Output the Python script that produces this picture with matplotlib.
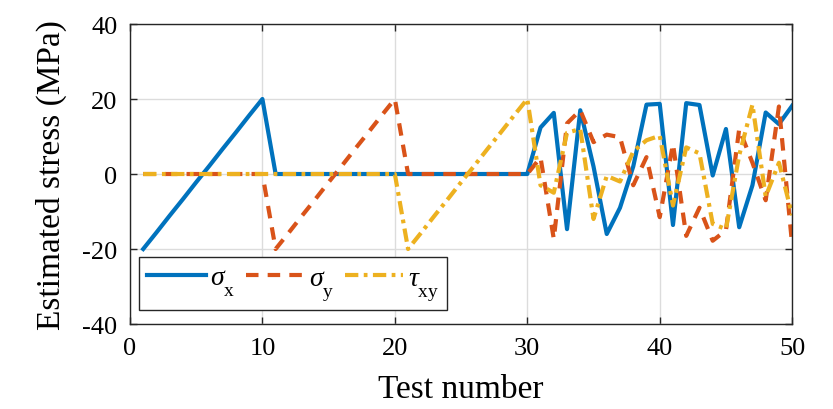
import matplotlib
matplotlib.use("Agg")
import matplotlib.pyplot as plt
import matplotlib._mathtext as mt

plt.rcParams['font.family'] = ['Liberation Serif', 'DejaVu Serif']
plt.rcParams['mathtext.fontset'] = 'custom'
plt.rcParams['mathtext.rm'] = 'Liberation Serif'
plt.rcParams['mathtext.it'] = 'Liberation Serif:italic'
# MATLAB-style tex puts subscripts lower than mathtext does
mt.FontConstantsBase.sub1 = 0.85
mt.FontConstantsBase.sub2 = 0.9

# test numbers 1..50
test = list(range(1, 51))

sigma_x = [-20, -15.6, -11.1, -6.7, -2.2, 2.2, 6.7, 11.1, 15.6, 20,
           0, 0, 0, 0, 0, 0, 0, 0, 0, 0,
           0, 0, 0, 0, 0, 0, 0, 0, 0, 0,
           12.4, 16.3, -14.7, 17.0, 2.0, -16.0, -9.0, 2.0, 18.5, 18.7,
           -13.6, 18.9, 18.4, -0.4, 12.0, -14.2, -3.0, 16.4, 13.3, 18.2]

sigma_y = [0, 0, 0, 0, 0, 0, 0, 0, 0, 0,
           -20, -15.6, -11.1, -6.7, -2.2, 2.2, 6.7, 11.1, 15.6, 20,
           0, 0, 0, 0, 0, 0, 0, 0, 0, 0,
           4.4, -17.3, 13.5, 17.0, 8.5, 10.5, 9.8, -3.0, 4.5, -11.5,
           8.0, -16.5, -9.0, -17.8, -15.0, 12.0, 3.0, -7.0, 18.0, -19.0]

tau_xy = [0, 0, 0, 0, 0, 0, 0, 0, 0, 0,
          0, 0, 0, 0, 0, 0, 0, 0, 0, 0,
          -20, -15.6, -11.1, -6.7, -2.2, 2.2, 6.7, 11.1, 15.6, 20,
          -3.0, -5.0, 11.0, 12.0, -12.0, -0.5, -2.0, 6.0, 9.0, 10.2,
          -8.4, 7.1, 5.5, -13.3, -14.7, 5.0, 18.5, -6.0, 3.0, -11.0]

xticks = [0, 10, 20, 30, 40, 50]
yticks = [-40, -20, 0, 20, 40]

fig = plt.figure(figsize=(8.33, 4.10), dpi=100)
ax = fig.add_axes([0.156, 0.2073, 0.795, 0.7317])

ax.plot(test, sigma_x, color='#0072BD', lw=3, label=r'$\sigma_{\mathrm{x}}$')
ax.plot(test, sigma_y, color='#D95319', lw=3, dashes=(3, 2.2), label=r'$\sigma_{\mathrm{y}}$')
ax.plot(test, tau_xy, color='#EDB120', lw=3, dashes=(3.2, 1.3, 0.9, 1.3), label=r'$\tau_{\mathrm{xy}}$')

ax.set_xlim(0, 50)
ax.set_ylim(-40, 40)
ax.set_xticks(xticks)
ax.set_yticks(yticks)
ax.set_yticklabels([str(v) for v in yticks])
ax.grid(True, color='#dcdcdc', lw=1)
ax.set_axisbelow(True)
for s in ax.spines.values():
    s.set_color('#262626')
    s.set_linewidth(1)
ax.tick_params(direction='in', length=5, width=1, color='#262626',
               top=True, right=True, labelsize=19, pad=9)

ax.set_xlabel('Test number', fontsize=24, labelpad=11)
ax.set_ylabel('Estimated stress (MPa)', fontsize=24, labelpad=11)

leg = ax.legend(ncol=3, loc='lower left', bbox_to_anchor=(0.0136, 0.0467),
                borderaxespad=0, fontsize=20, handlelength=2.1,
                handletextpad=0.15, columnspacing=0.4, borderpad=0.3,
                fancybox=False, framealpha=1, edgecolor='#262626')
leg.get_frame().set_linewidth(1)

fig.savefig('out.png', dpi=100)
